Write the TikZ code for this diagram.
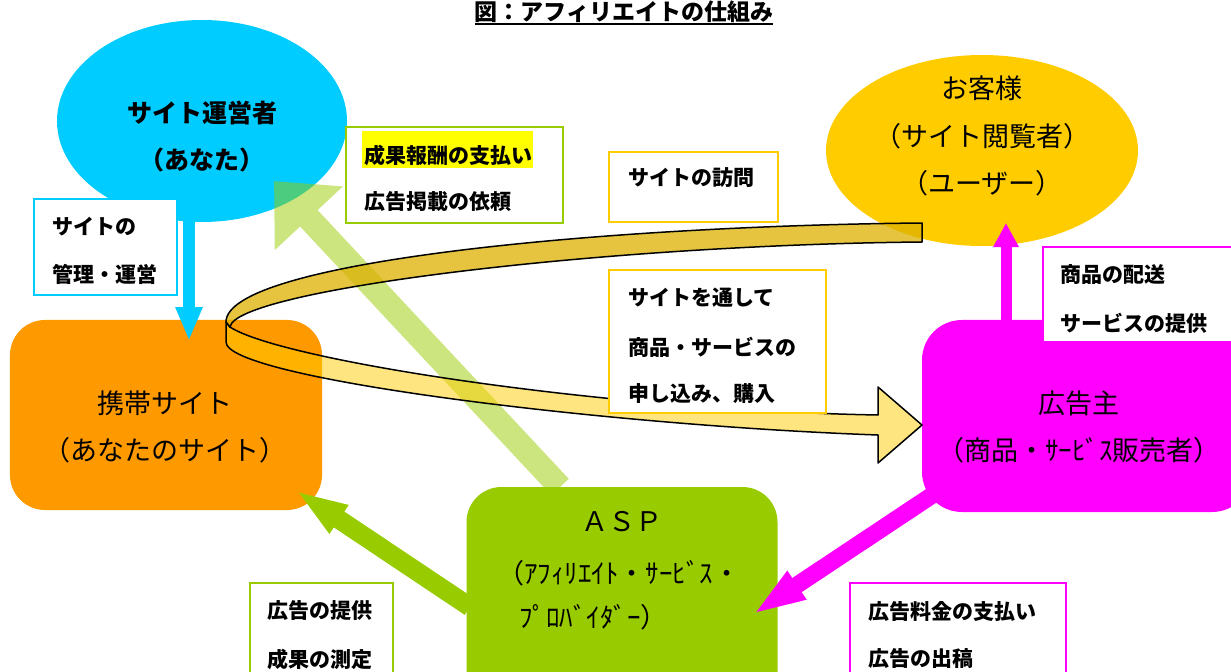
\documentclass[tikz,border=0pt]{standalone}
\usepackage{fontspec}
\setmainfont{Noto Sans CJK JP}
\usetikzlibrary{shapes.geometric,arrows.meta,calc}
\definecolor{cyanc}{HTML}{00CCFF}
\definecolor{goldc}{HTML}{FFCC00}
\definecolor{orangec}{HTML}{FF9900}
\definecolor{magc}{HTML}{FF00FF}
\definecolor{greenc}{HTML}{99CC00}
\definecolor{ribbonback}{HTML}{DDB000}
\definecolor{hlc}{HTML}{FFFF00}
\begin{document}
\begin{tikzpicture}[x=1bp,y=-1bp,
  every node/.style={inner sep=0pt, outer sep=0pt},
  lbl/.style={anchor=west, font=\fontsize{21bp}{21bp}\selectfont\bfseries},
  bigtxt/.style={font=\fontsize{27bp}{27bp}\selectfont},
  boldtxt/.style={font=\fontsize{25bp}{25bp}\selectfont\bfseries},
  labbox/.style={draw, line width=2bp, fill=white, anchor=north west},
  rbox/.style={rectangle, rounded corners=#1},
  ribbonline/.style={draw=black, line width=1.5bp, line join=round}
]
\useasboundingbox (0,0) rectangle (1231,672);
\clip (0,0) rectangle (1231,672);

% main shapes
\node[ellipse, fill=cyanc, minimum width=290bp, minimum height=202bp] (op) at (202,121) {};
\node[ellipse, fill=goldc, minimum width=312bp, minimum height=191bp] (cust) at (982,150.5) {};
\node[rbox=35bp, fill=orangec, minimum width=312bp, minimum height=190bp] (site) at (166,415) {};
\node[rbox=40bp, fill=magc, minimum width=330bp, minimum height=192bp] (adv) at (1087,416) {};
\node[rbox=35bp, fill=greenc, minimum width=311bp, minimum height=220bp] (asp) at (622,597) {};

% texts in shapes
\node[boldtxt] (op1) at (202,113) {サイト運営者};
\node[boldtxt] (op2) at (202,160) {（あなた）};
\node[bigtxt] (cu1) at (982,88) {お客様};
\node[bigtxt] (cu2) at (982,136) {（サイト閲覧者）};
\node[bigtxt] (cu3) at (982,183) {（ユーザー）};
\node[bigtxt] (si1) at (165,403) {携帯サイト};
\node[bigtxt] (si2) at (165,450) {（あなたのサイト）};
\node[bigtxt] (ad1) at (1079,403) {広告主};
\node[bigtxt] (ad2) at (1079,450) {（商品・ｻｰﾋﾞｽ販売者）};
\node[bigtxt] (as1) at (622,522) {ＡＳＰ};
\node[bigtxt, anchor=west] (as2) at (497,573) {（ｱﾌｨﾘｴｲﾄ・ｻｰﾋﾞｽ・};
\node[bigtxt, anchor=west] (as3) at (519,617) {ﾌﾟﾛﾊﾞｲﾀﾞｰ）};

% arrows
\coordinate (cyS) at (189,215);   \coordinate (cyT) at (189,341);
\coordinate (muS) at (1006,325);  \coordinate (muT) at (1006,223);
\coordinate (dgS) at (470,607);   \coordinate (dgT) at (295,490);
\coordinate (mdS) at (940,490);   \coordinate (mdT) at (752,615);
\coordinate (lgS) at (560,487);   \coordinate (lgT) at (274,181);
\draw[cyanc, line width=12bp, -{Triangle[length=34bp,width=25bp]}] (cyS) -- (cyT);
\draw[magc, line width=11bp, -{Triangle[length=24bp,width=24bp]}] (muS) -- (muT);
\draw[greenc, line width=19bp, -{Triangle[length=53bp,width=30bp]}] (dgS) -- (dgT);
\draw[magc, line width=17bp, -{Triangle[length=54bp,width=30bp]}] (mdS) -- (mdT);
\begin{scope}[transparency group, opacity=0.5]
\draw[greenc, line width=24bp, -{Triangle[length=51bp,width=90bp]}] (lgS) -- (lgT);
\end{scope}

% ribbon arrow (site visit -> purchase)
\filldraw[fill=goldc, fill opacity=0.5, ribbonline]
  (230,327) .. controls (280,360) and (600,410) .. (878,415)
  -- (878,387) -- (922,425) -- (878,463) -- (878,435)
  .. controls (600,425) and (226,378) .. (226,342) -- (226,322) -- cycle;
\filldraw[fill=ribbonback, fill opacity=0.75, ribbonline]
  (922,223) .. controls (600,226) and (226,262) .. (226,322)
  -- (230,327) .. controls (235,290) and (600,245) .. (922,242) -- cycle;

% label boxes
\node[labbox, draw=cyanc, minimum width=143bp, minimum height=96bp] (b1) at (34,199) {};
\node[labbox, draw=greenc, minimum width=217bp, minimum height=96bp] (b2) at (346,127) {};
\fill[hlc] (362,131) rectangle (533,168);
\node[labbox, draw=goldc, minimum width=169bp, minimum height=70bp] (b3) at (609,152) {};
\node[labbox, draw=goldc, minimum width=217bp, minimum height=143bp] (b4) at (609,270) {};
\node[labbox, draw=magc, minimum width=200bp, minimum height=95bp] (b5) at (1043,247) {};
\node[labbox, draw=greenc, minimum width=143bp, minimum height=100bp] (b6) at (250,583) {};
\node[labbox, draw=magc, minimum width=216bp, minimum height=100bp] (b7) at (850,583) {};

\node[lbl] (t1a) at (52,227) {サイトの};
\node[lbl] (t1b) at (52,274) {管理・運営};
\node[lbl] (t2a) at (364,155) {成果報酬の支払い};
\node[lbl] (t2b) at (364,202) {広告掲載の依頼};
\node[lbl] (t3a) at (628,178) {サイトの訪問};
\node[lbl] (t4a) at (628,298) {サイトを通して};
\node[lbl] (t4b) at (628,347) {商品・サービスの};
\node[lbl] (t4c) at (628,394) {申し込み、購入};
\node[lbl] (t5a) at (1060,275) {商品の配送};
\node[lbl] (t5b) at (1060,323) {サービスの提供};
\node[lbl] (t6a) at (267,611) {広告の提供};
\node[lbl] (t6b) at (267,659) {成果の測定};
\node[lbl] (t7a) at (868,611) {広告料金の支払い};
\node[lbl] (t7b) at (868,659) {広告の出稿};

% title
\node[font=\fontsize{23bp}{23bp}\selectfont\bfseries] (title) at (624,11.5) {図：アフィリエイトの仕組み};
\draw[line width=2bp] ($(title.south west)+(0,1.5)$) -- ($(title.south east)+(0,1.5)$);
\end{tikzpicture}
\end{document}
